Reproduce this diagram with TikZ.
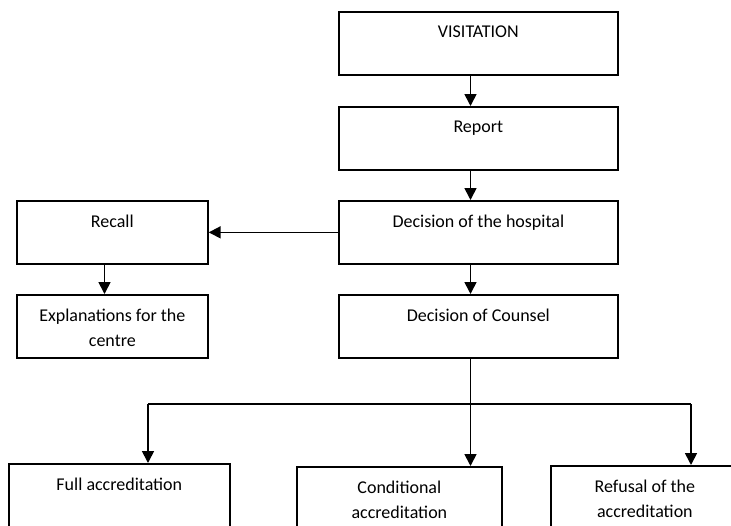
\documentclass[tikz,border=0pt]{standalone}
\usepackage{fontspec}
\setmainfont{Carlito}
\usetikzlibrary{arrows.meta,calc}
\begin{document}
\begin{tikzpicture}[x=1pt,y=-1pt,
  box/.style={draw=black, line width=1.7pt, rectangle, inner sep=0pt, anchor=north west},
  lbl/.style={font=\fontsize{18}{25}\selectfont, align=center, anchor=north, inner sep=0pt},
  arr/.style={line width=1.7pt, -{Triangle[width=12pt,length=12pt]}},
  conn/.style={line width=1.7pt}]
\clip (0,0) rectangle (731,525);
\fill[white] (0,0) rectangle (731,525);
% main column
\node[box, minimum width=279pt, minimum height=63pt] (vis) at (338,11) {};
\node[box, minimum width=279pt, minimum height=63pt] (rep) at (338,106) {};
\node[box, minimum width=279pt, minimum height=63pt] (hosp) at (338,200) {};
\node[box, minimum width=279pt, minimum height=63pt] (coun) at (338,294) {};
% left column
\node[box, minimum width=191pt, minimum height=63pt] (rec) at (16,200) {};
\node[box, minimum width=191pt, minimum height=63pt] (expl) at (16,294) {};
% bottom row
\node[box, minimum width=221pt, minimum height=90pt] (full) at (8,463) {};
\node[box, minimum width=205pt, minimum height=90pt] (cond) at (296,466) {};
\node[box, minimum width=188pt, minimum height=90pt] (refu) at (550,465) {};
% texts
\node[lbl] (tvis) at ($(vis.north)+(0,15)$) {VISITATION};
\node[lbl] (trep) at ($(rep.north)+(0,15)$) {Report};
\node[lbl] (thosp) at ($(hosp.north)+(0,15)$) {Decision of the hospital};
\node[lbl] (tcoun) at ($(coun.north)+(0,15)$) {Decision of Counsel};
\node[lbl] (trec) at ($(rec.north)+(0,15)$) {Recall};
\node[lbl] (texpl) at ($(expl.north)+(0,15)$) {Explanations for the\\centre};
\node[lbl] (tfull) at ($(full.north)+(0,15)$) {Full accreditation};
\node[lbl] (tcond) at ($(cond.north)+(0,15)$) {Conditional\\accreditation};
\node[lbl] (trefu) at ($(refu.north)+(0,15)$) {Refusal of the\\accreditation};
% connector axes
\coordinate (ax) at (470.5,0);
\coordinate (axl) at (104.5,0);
\coordinate (axf) at (148,0);
\coordinate (axr) at (691,0);
\coordinate (bus) at (0,404);
% connectors
\draw[arr] (vis.south -| ax) -- (rep.north -| ax);
\draw[arr] (rep.south -| ax) -- (hosp.north -| ax);
\draw[arr] (hosp.south -| ax) -- (coun.north -| ax);
\draw[arr] (hosp.west) -- (rec.east);
\draw[arr] (rec.south -| axl) -- (expl.north -| axl);
\draw[arr] (coun.south -| ax) -- (cond.north -| ax);
\draw[conn] (bus -| axf) -- (bus -| axr);
\draw[arr] (bus -| axf) -- (full.north -| axf);
\draw[arr] (bus -| axr) -- (refu.north -| axr);
\end{tikzpicture}
\end{document}
